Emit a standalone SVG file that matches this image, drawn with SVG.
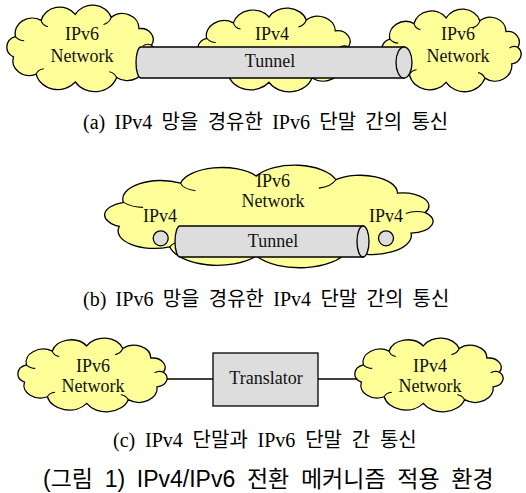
<svg xmlns="http://www.w3.org/2000/svg" xmlns:xlink="http://www.w3.org/1999/xlink" width="526" height="493" viewBox="0 0 526 493">
<style>
.cl{fill:#FFFF99;stroke:#000;stroke-width:1.3;vector-effect:non-scaling-stroke}
.ci{fill:none;stroke:#000;stroke-width:1.1;vector-effect:non-scaling-stroke}
.t{font-family:"Liberation Serif","Noto Sans CJK KR",serif;font-size:18px;fill:#111;text-anchor:middle}
.cap{font-family:"Liberation Serif","Noto Sans CJK KR",serif;font-size:20px;fill:#000}
.title{font-family:"Liberation Sans","Noto Sans CJK KR",sans-serif;font-size:23px;fill:#000}
.tun{fill:#DDDDDD;stroke:#000;stroke-width:1.3}
.ln{stroke:#000;stroke-width:1.3;fill:none}
</style>
<defs>
<g id="cloud">
<path class="cl" d="M19.2,44.3 A21,21 0 0 1 50.7,22.3 A23.4,23.4 0 0 1 92.5,14.2 A24,24 0 0 1 136.4,18.3 A20.5,20.5 0 0 1 170.4,33.6 A15,15 0 0 1 185.7,56 A13.6,13.6 0 0 1 177.9,79.5 A22,22 0 0 1 143,99.8 A28,28 0 0 1 92.5,105.8 A27,27 0 0 1 44.7,95.2 A20,20 0 0 1 16.9,71.9 A15,15 0 0 1 19.2,44.3 Z"/>
<path class="ci" d="M50.7,22.3 Q52,29 59,31 M136.4,18.3 Q134,26 127,28 M185.7,56 Q180,53 175,57 M143,99.8 Q140,93 134,92 M44.7,95.2 Q47,89 54,88 M19.2,44.3 Q24,50 30,50"/>
</g>
</defs>

<g id="a-left-cloud">
<use xlink:href="#cloud" transform="translate(-0.36,3.89) scale(0.818,0.737)"/>
<text class="t" x="82" y="40">IPv6</text>
<text class="t" x="82" y="62">Network</text>
</g>
<g id="a-mid-cloud">
<use xlink:href="#cloud" transform="translate(190.3,6.93) scale(0.851,0.712)"/>
<text class="t" x="272" y="40">IPv4</text>
</g>
<g id="a-right-cloud">
<use xlink:href="#cloud" transform="translate(375.1,7.95) scale(0.768,0.703)"/>
<text class="t" x="458" y="40">IPv6</text>
<text class="t" x="458" y="62">Network</text>
</g>
<g id="a-tunnel">
<path class="tun" d="M404,47 L141,47 A5,15.5 0 0 0 141,78 L404,78 Z"/>
<ellipse class="tun" cx="404" cy="62.5" rx="8" ry="15.5"/>
<text class="t" x="270" y="67">Tunnel</text>
</g>
<text class="cap" x="83" y="129" word-spacing="4.3">(a) IPv4 망을 경유한 IPv6 단말 간의 통신</text>

<g id="b-cloud">
<use xlink:href="#cloud" transform="translate(88.7,163.7) scale(1.812,0.873)"/>
<text class="t" x="273" y="187">IPv6</text>
<text class="t" x="273" y="207">Network</text>
<text class="t" x="160" y="222">IPv4</text>
<text class="t" x="386" y="222">IPv4</text>
</g>
<g id="b-host-left"><circle class="tun" cx="160.7" cy="238.3" r="7.5"/></g>
<g id="b-host-right"><circle class="tun" cx="386" cy="238.3" r="7.5"/></g>
<g id="b-tunnel">
<path class="tun" d="M363,226 L180,226 A5,15.5 0 0 0 180,257 L363,257 Z"/>
<ellipse class="tun" cx="363" cy="241.5" rx="6" ry="15.5"/>
<text class="t" x="273" y="247">Tunnel</text>
</g>
<text class="cap" x="83" y="306" word-spacing="4.3">(b) IPv6 망을 경유한 IPv4 단말 간의 통신</text>

<g id="connectors">
<line class="ln" x1="165" y1="379" x2="213" y2="379"/>
<line class="ln" x1="318" y1="379" x2="357" y2="379"/>
</g>
<g id="c-left-cloud">
<use xlink:href="#cloud" transform="translate(10.6,337.06) scale(0.823,0.627)"/>
<text class="t" x="93" y="372">IPv6</text>
<text class="t" x="93" y="392">Network</text>
</g>
<g id="c-translator">
<rect class="tun" x="213" y="353" width="105" height="53"/>
<text class="t" x="266" y="384">Translator</text>
</g>
<g id="c-right-cloud">
<use xlink:href="#cloud" transform="translate(347.6,337.06) scale(0.818,0.627)"/>
<text class="t" x="430" y="372">IPv4</text>
<text class="t" x="430" y="392">Network</text>
</g>
<text class="cap" x="113" y="447" word-spacing="4.8">(c) IPv4 단말과 IPv6 단말 간 통신</text>

<text class="title" x="43" y="487" word-spacing="5.3">(그림 1) IPv4/IPv6 전환 메커니즘 적용 환경</text>
</svg>
